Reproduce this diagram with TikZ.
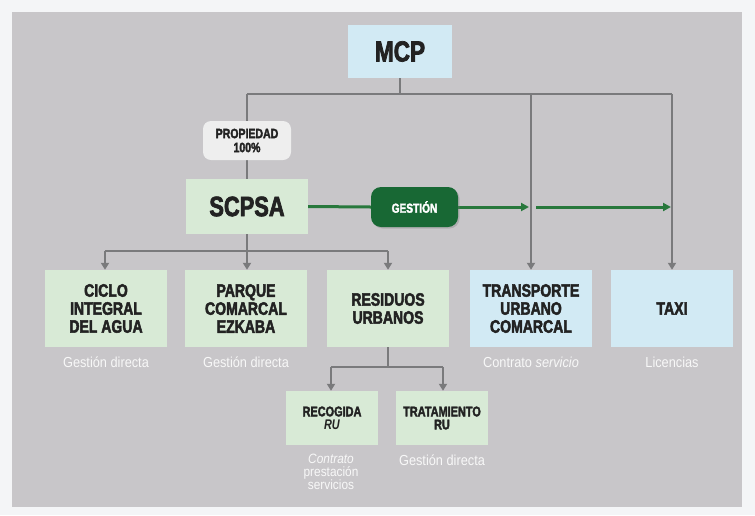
\documentclass[tikz,border=0pt]{standalone}
\usepackage{fontspec}
\setmainfont{Liberation Sans}
\newfontfamily\bfont{Liberation Sans}[FakeStretch=0.78, BoldFeatures={FakeBold=2.5}]
\newfontfamily\lfont{Liberation Sans}[FakeStretch=0.88]
\usetikzlibrary{arrows.meta,backgrounds,shadows}
\definecolor{bggray}{RGB}{200,198,201}
\definecolor{outer}{RGB}{244,245,247}
\definecolor{lblue}{RGB}{210,234,244}
\definecolor{lgreen}{RGB}{216,234,214}
\definecolor{lgray}{RGB}{122,122,124}
\definecolor{txt}{RGB}{34,34,34}
\definecolor{propfill}{RGB}{238,238,238}
\definecolor{gestfill}{RGB}{24,104,52}
\definecolor{gline}{RGB}{40,120,60}
\definecolor{labw}{RGB}{248,248,248}
\tikzset{
 box/.style={rectangle, inner sep=0pt, align=center, text=txt,
   font=\bfont\bfseries\fontsize{18}{18}\selectfont,
   minimum width=122pt, minimum height=77pt},
 gbox/.style={box, fill=lgreen},
 bbox/.style={box, fill=lblue},
 smallbox/.style={gbox, minimum width=92pt, minimum height=54pt,
   font=\bfont\bfseries\fontsize{14}{13}\selectfont},
 lab/.style={text=labw, font=\lfont\fontsize{14.5}{12}\selectfont, align=center, inner sep=0pt},
 conn/.style={draw=lgray, line width=2.6pt},
 arr/.style={conn, -{Triangle[length=7pt,width=8pt]}},
 garr/.style={draw=gline, line width=3pt, -{Triangle[length=8pt,width=8pt]}},
 gline/.style={draw=gline, line width=3pt},
}
\begin{document}
\begin{tikzpicture}[x=1pt,y=-1pt]
\useasboundingbox (0,0) rectangle (755,515);
% nodes
\node[bbox, minimum width=104pt, minimum height=53pt,
  font=\bfont\bfseries\fontsize{29}{29}\selectfont] (mcp) at (400,51.5) {MCP};
\node[rectangle, rounded corners=8pt, fill=propfill, inner sep=0pt, align=center, text=txt,
  minimum width=88pt, minimum height=39pt,
  font=\bfont\bfseries\fontsize{13.5}{14}\selectfont] (prop) at (247,140.5) {PROPIEDAD\\100\%};
\node[gbox, minimum width=122pt, minimum height=55pt,
  font=\bfont\bfseries\fontsize{28}{28}\selectfont] (scpsa) at (247,206.5) {SCPSA};
\node[rectangle, rounded corners=10pt, fill=gestfill, inner sep=0pt, text=white,
  minimum width=87pt, minimum height=40pt,
  drop shadow={opacity=0.35, shadow xshift=1.5pt, shadow yshift=-1.5pt},
  font=\bfont\bfseries\fontsize{13}{13}\selectfont] (gest) at (414.5,207) {GESTIÓN};
\node[gbox] (ciclo) at (106,308.5) {CICLO\\INTEGRAL\\DEL AGUA};
\node[gbox] (parque) at (246,308.5) {PARQUE\\COMARCAL\\EZKABA};
\node[gbox] (resid) at (388,308.5) {RESIDUOS\\URBANOS};
\node[bbox] (trans) at (531,308.5) {TRANSPORTE\\URBANO\\COMARCAL};
\node[bbox] (taxi) at (672,308.5) {TAXI};
\node[smallbox] (recog) at (332,418) {RECOGIDA\\\textit{RU}};
\node[smallbox] (trat) at (442,418) {TRATAMIENTO\\RU};
% labels
\node[lab] (l1) at (106,362) {Gestión directa};
\node[lab] (l2) at (246,362) {Gestión directa};
\node[lab] (l3) at (531,362) {Contrato \textit{servicio}};
\node[lab] (l4) at (672,362) {Licencias};
\node[lab, font=\lfont\fontsize{13.5}{12.5}\selectfont] (l5) at (331,472) {\textit{Contrato}\\prestación\\servicios};
\node[lab] (l6) at (442,460) {Gestión directa};
% junctions
\coordinate (jm) at (400,94);
\coordinate (j1) at (247,94);
\coordinate (j2) at (531,94);
\coordinate (j3) at (672,94);
\coordinate (k1) at (105,251);
\coordinate (k2) at (247,251);
\coordinate (k3) at (388,251);
\coordinate (r0) at (388,367);
\coordinate (r1) at (331,367);
\coordinate (r2) at (443,367);
\coordinate (g1) at (529,207);
\coordinate (g2) at (536,207);
\coordinate (g3) at (671,207);
\begin{pgfonlayer}{background}
\fill[outer] (0,0) rectangle (755,515);
\fill[bggray] (12,12) rectangle (742,507);
\draw[conn] (mcp.south) -- (jm);
\draw[conn] (j1) -- (j3);
\draw[conn] (j1) -- (scpsa.north);
\draw[arr] (j2) -- (trans.north);
\draw[arr] (j3) -- (taxi.north);
\draw[conn] (scpsa.south) -- (k2);
\draw[conn] (k1) -- (k3);
\draw[arr] (k1) -- (ciclo.north -| k1);
\draw[arr] (k2) -- (parque.north -| k2);
\draw[arr] (k3) -- (resid.north -| k3);
\draw[conn] (resid.south) -- (r0);
\draw[conn] (r1) -- (r2);
\draw[arr] (r1) -- (recog.north -| r1);
\draw[arr] (r2) -- (trat.north -| r2);
\draw[gline] (scpsa.east) -- (gest.west);
\draw[garr] (gest.east) -- (g1);
\draw[garr] (g2) -- (g3);
\end{pgfonlayer}
\end{tikzpicture}
\end{document}
